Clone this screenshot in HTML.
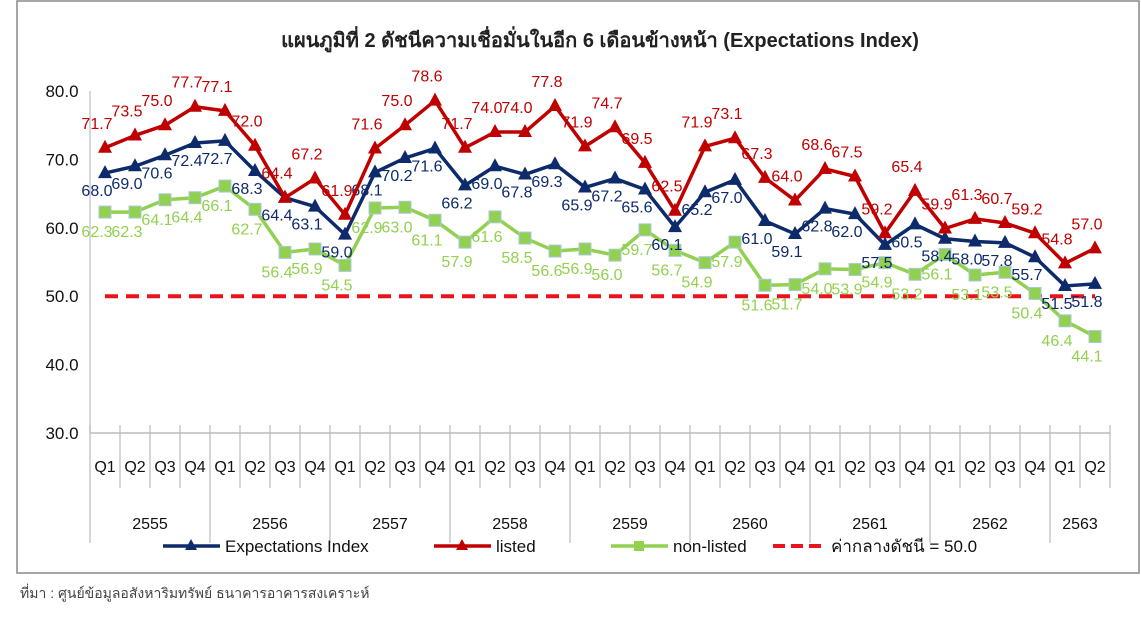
<!DOCTYPE html>
<html><head><meta charset="utf-8"><style>
body{margin:0;background:#fff;width:1141px;height:623px;overflow:hidden;font-family:"Liberation Sans","Noto Sans CJK SC",sans-serif}
</style></head><body>
<svg id="c" width="1141" height="623" xmlns="http://www.w3.org/2000/svg" font-family="Liberation Sans, Noto Sans CJK SC, sans-serif">
<rect x="17" y="1" width="1122" height="572" fill="#fff" stroke="#888" stroke-width="1.5"/>
<text x="600" y="47" text-anchor="middle" font-size="20" font-weight="bold" fill="#222">แผนภูมิที่ 2 ดัชนีความเชื่อมั่นในอีก 6 เดือนข้างหน้า (Expectations Index)</text>
<g id="axes"></g><g id="marks"></g><g id="legend"></g>
<text x="20" y="598" font-size="14" fill="#444">ที่มา : ศูนย์ข้อมูลอสังหาริมทรัพย์ ธนาคารอาคารสงเคราะห์</text>
</svg>
<script>
const years=["2555","2556","2557","2558","2559","2560","2561","2562","2563"];
const quarters=["Q1","Q2","Q3","Q4"];
const yTicks=[30,40,50,60,70,80];
const expectations=[68.0,69.0,70.6,72.4,72.7,68.3,64.4,63.1,59.0,68.1,70.2,71.6,66.2,69.0,67.8,69.3,65.9,67.2,65.6,60.1,65.2,67.0,61.0,59.1,62.8,62.0,57.5,60.5,58.4,58.0,57.8,55.7,51.5,51.8];
const listed=[71.7,73.5,75.0,77.7,77.1,72.0,64.4,67.2,61.9,71.6,75.0,78.6,71.7,74.0,74.0,77.8,71.9,74.7,69.5,62.5,71.9,73.1,67.3,64.0,68.6,67.5,59.2,65.4,59.9,61.3,60.7,59.2,54.8,57.0];
const nonListed=[62.3,62.3,64.1,64.4,66.1,62.7,56.4,56.9,54.5,62.9,63.0,61.1,57.9,61.6,58.5,56.6,56.9,56.0,59.7,56.7,54.9,57.9,51.6,51.7,54.0,53.9,54.9,53.2,56.1,53.1,53.5,50.4,46.4,44.1];
const midline=50.0;
const NS="http://www.w3.org/2000/svg";
const x0=90,bw=30,yB=433,yT=91,vMin=30,vMax=80;
const n=listed.length;
const X=i=>x0+bw*(i+0.5);
const Y=v=>yB-(v-vMin)/(vMax-vMin)*(yB-yT);
function mk(t,a,p){const e=document.createElementNS(NS,t);for(const k in a)e.setAttribute(k,a[k]);p.appendChild(e);return e;}
const ax=document.getElementById('axes'),mg=document.getElementById('marks'),lg=document.getElementById('legend');
let e=mk('line',{x1:x0,y1:yT,x2:x0,y2:yB,stroke:'#ccc','stroke-width':1.5},ax);


e=mk('line',{x1:x0,y1:yB,x2:x0+bw*n,y2:yB,stroke:'#bbb','stroke-width':1.5},ax);


yTicks.forEach(v=>{const t=mk('text',{x:62,y:Y(v)+6,'text-anchor':'middle','font-size':17,fill:'#111'},ax);t.textContent=v.toFixed(1);

});
for(let i=0;i<=n;i++){const yr=i%4===0;const l=mk('line',{x1:x0+bw*i,y1:yB-8,x2:x0+bw*i,y2:yr?yB+110:yB+55,stroke:'#bbb','stroke-width':1.2},ax);

}
for(let i=0;i<n;i++){const t=mk('text',{x:X(i),y:yB+39,'text-anchor':'middle','font-size':16,fill:'#111'},ax);t.textContent=quarters[i%4];

}
years.forEach((y,k)=>{const cnt=Math.min(4,n-k*4);const t=mk('text',{x:x0+bw*(k*4+cnt/2),y:yB+96,'text-anchor':'middle','font-size':16,fill:'#111'},ax);t.textContent=y;

});
e=mk('line',{x1:X(0),y1:Y(midline),x2:X(n-1),y2:Y(midline),stroke:'#e8141c','stroke-width':4,'stroke-dasharray':'13,8'},mg);


function series(data,color,marker,lblColor,dy,name){
 const g=mk('g',{},mg);
 
 
 const pl=mk('polyline',{points:data.map((v,i)=>X(i)+','+Y(v)).join(' '),fill:'none',stroke:color,'stroke-width':3.5,'stroke-linejoin':'round'},g);
 
 
 data.forEach((v,i)=>{const x=X(i),y=Y(v);let m;
  if(marker==='tri')m=mk('polygon',{points:`${x},${y-8} ${x-7},${y+5} ${x+7},${y+5}`,fill:color},g);
  else m=mk('rect',{x:x-6,y:y-6,width:12,height:12,fill:color,stroke:'#aac8e0','stroke-width':1},g);
  
  
  const t=mk('text',{x:x-8,y:y+dy,'text-anchor':'middle','font-size':16,fill:lblColor},g);t.textContent=v.toFixed(1);
  
  });
}
series(nonListed,'#92d050','sq','#92d050',25,'non-listed');
series(expectations,'#0d2a6b','tri','#0d2a6b',23,'expectations-index');
series(listed,'#c00000','tri','#c00000',-19,'listed');
const items=[["Expectations Index",'#0d2a6b','tri',163],["listed",'#c00000','tri',434],["non-listed",'#92d050','sq',611],["ค่ากลางดัชนี = 50.0",'#e8141c','dash',773]];
items.forEach(it=>{const [lab,c,m,x]=it;const y=546;
 const g=mk('g',{},lg);
 
 
 if(m==='dash')mk('line',{x1:x,y1:y,x2:x+50,y2:y,stroke:c,'stroke-width':4,'stroke-dasharray':'12,6'},g);
 else{mk('line',{x1:x,y1:y,x2:x+57,y2:y,stroke:c,'stroke-width':3.5},g);
  if(m==='tri')mk('polygon',{points:`${x+28},${y-7} ${x+22},${y+4} ${x+34},${y+4}`,fill:c},g);
  else mk('rect',{x:x+23,y:y-5,width:10,height:10,fill:c},g);}
 const t=mk('text',{x:x+(m==='dash'?58:62),y:y+6,'font-size':17,fill:'#111'},g);t.textContent=lab;});
</script>
</body></html>
